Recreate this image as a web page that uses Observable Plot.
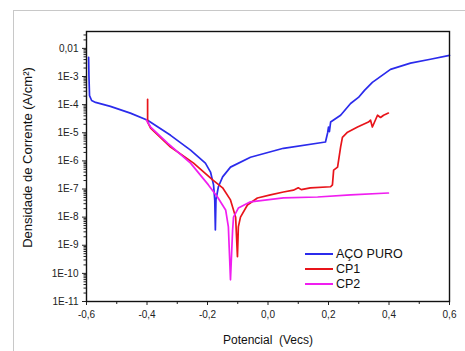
<!DOCTYPE html>
<html><head><meta charset="utf-8">
<script src="https://cdn.jsdelivr.net/npm/d3@7"></script>
<script src="https://cdn.jsdelivr.net/npm/@observablehq/plot@0.6"></script>
<style>
body{margin:0;background:#fff;}
#wrap{position:relative;width:465px;height:351px;overflow:hidden;font-family:"Liberation Sans",Arial,sans-serif;}
#border{position:absolute;left:13px;top:10px;width:470px;height:400px;border-top:1px solid #c8c8c8;border-left:1px solid #c8c8c8;}
#legend{position:absolute;left:305px;top:246px;font-size:12.5px;color:#111;}
.row{display:flex;align-items:center;height:15px;}
.sw{width:28px;height:2px;margin-right:3px;}
#chart svg{position:absolute;left:0;top:0;}
</style></head>
<body>
<div id="wrap"><div id="border"></div><div id="chart"></div><div id="legend"></div></div>
<script>
// Series names and colours
const seriesNames = ["AÇO PURO", "CP1", "CP2"];
const seriesColors = ["#2b2bec", "#e8141a", "#f01ef0"];

// AÇO PURO: potential (V) and current density (A/cm²)
const acoE = [-0.593,-0.592,-0.590,-0.583,-0.570,-0.521,-0.455,-0.398,-0.322,-0.256,-0.207,-0.190,-0.180,-0.176,-0.174,-0.172,-0.164,-0.150,-0.124,-0.058,0.051,0.190,0.197,0.200,0.203,0.207,0.240,0.273,0.299,0.319,0.345,0.405,0.471,0.537,0.600];
const acoI = [4.8e-3,1.1e-3,2.1e-4,1.4e-4,1.2e-4,8.7e-5,5.0e-5,2.8e-5,8.1e-6,2.4e-6,8.3e-7,4.0e-7,1.4e-7,4.0e-8,3.5e-9,4.1e-8,1.2e-7,2.7e-7,6.0e-7,1.35e-6,2.8e-6,4.7e-6,9.8e-6,1.6e-5,1.1e-5,2.4e-5,4.2e-5,1.1e-4,1.8e-4,3.2e-4,6.2e-4,1.8e-3,3.0e-3,4.1e-3,5.6e-3];

// CP1
const cp1E = [-0.398,-0.398,-0.388,-0.322,-0.246,-0.183,-0.150,-0.124,-0.107,-0.101,-0.098,-0.091,-0.068,-0.035,0.008,0.051,0.084,0.100,0.110,0.140,0.207,0.213,0.217,0.230,0.240,0.246,0.263,0.296,0.332,0.339,0.345,0.362,0.372,0.382,0.398];
const cp1I = [1.55e-4,2.4e-5,1.45e-5,3.1e-6,8.3e-7,2.1e-7,1.1e-7,4.1e-8,1.0e-8,3.9e-10,4.5e-9,1.0e-8,2.7e-8,4.8e-8,6.2e-8,7.8e-8,9.1e-8,1.1e-7,9.5e-8,1.1e-7,1.2e-7,1.4e-7,4.7e-7,6.0e-7,3.1e-6,6.9e-6,1.05e-5,1.6e-5,2.4e-5,2.8e-5,1.6e-5,4.2e-5,3.5e-5,4.2e-5,5.0e-5];

// CP2
const cp2E = [-0.402,-0.388,-0.332,-0.256,-0.197,-0.167,-0.140,-0.131,-0.124,-0.117,-0.114,-0.098,-0.058,0.051,0.164,0.273,0.398];
const cp2I = [2.8e-5,1.6e-5,4.3e-6,8.3e-7,1.4e-7,5.2e-8,1.8e-8,4.5e-9,5.9e-11,3.5e-9,1.0e-8,2.1e-8,3.5e-8,4.8e-8,5.2e-8,6.2e-8,7.2e-8];

// Axis ticks and labels
const xTicks = [-0.6,-0.4,-0.2,0.0,0.2,0.4,0.6];
const xTickLabels = ["-0,6","-0,4","-0,2","0,0","0,2","0,4","0,6"];
const xMinor = [-0.5,-0.3,-0.1,0.1,0.3,0.5];
const yTicks = [1e-11,1e-10,1e-9,1e-8,1e-7,1e-6,1e-5,1e-4,1e-3,1e-2];
const yTickLabels = ["1E-11","1E-10","1E-9","1E-8","1E-7","1E-6","1E-5","1E-4","1E-3","0,01"];
const xLabel = "Potencial  (Vecs)";
const yLabel = "Densidade de Corrente (A/cm²)";

const yMinor = [];
for (let k = -11; k <= -2; k++) for (let m = 2; m <= 9; m++) { const v = m * Math.pow(10, k); if (v < 0.04) yMinor.push(v); }

const rows = [];
[[acoE, acoI], [cp1E, cp1I], [cp2E, cp2I]].forEach(([E, I], s) => E.forEach((e, i) => rows.push({series: seriesNames[s], E: e, I: I[i]})));

const chart = Plot.plot({
  width: 465, height: 351,
  marginLeft: 86, marginRight: 16, marginTop: 31, marginBottom: 50,
  style: {fontFamily: "Liberation Sans, Arial, sans-serif", fontSize: "10px", color: "#222", background: "transparent", overflow: "visible"},
  x: {domain: [-0.6, 0.6]},
  y: {type: "log", domain: [1e-11, Math.pow(10, -1.4)]},
  color: {domain: seriesNames, range: seriesColors},
  marks: [
    Plot.axisY({ticks: yMinor, tickSize: 2.5, tickFormat: () => "", label: null}),
    Plot.axisY({ticks: yTicks, tickSize: 4, tickPadding: 4, tickFormat: d => yTickLabels[yTicks.indexOf(d)], label: null}),
    Plot.axisX({ticks: xMinor, tickSize: 3, tickFormat: () => "", label: null}),
    Plot.axisX({ticks: xTicks, tickSize: 4, tickPadding: 5, tickFormat: d => xTickLabels[xTicks.indexOf(d)], label: null}),
    Plot.line(rows, {x: "E", y: "I", z: "series", stroke: "series", strokeWidth: 1.7}),
    Plot.frame({stroke: "#111", strokeWidth: 1.4}),
    Plot.text([yLabel], {frameAnchor: "left", textAnchor: "middle", rotate: -90, dx: -59, dy: -9, fontSize: 13, fill: "#111"}),
    Plot.text([xLabel], {frameAnchor: "bottom", dy: 42, fontSize: 12, fill: "#111"})
  ]
});
document.getElementById("chart").appendChild(chart);

const legend = document.getElementById("legend");
seriesNames.forEach((n, i) => {
  const r = document.createElement("div"); r.className = "row";
  const sw = document.createElement("div"); sw.className = "sw"; sw.style.background = seriesColors[i];
  const t = document.createElement("span"); t.textContent = n;
  r.appendChild(sw); r.appendChild(t); legend.appendChild(r);
});
</script>
</body></html>
